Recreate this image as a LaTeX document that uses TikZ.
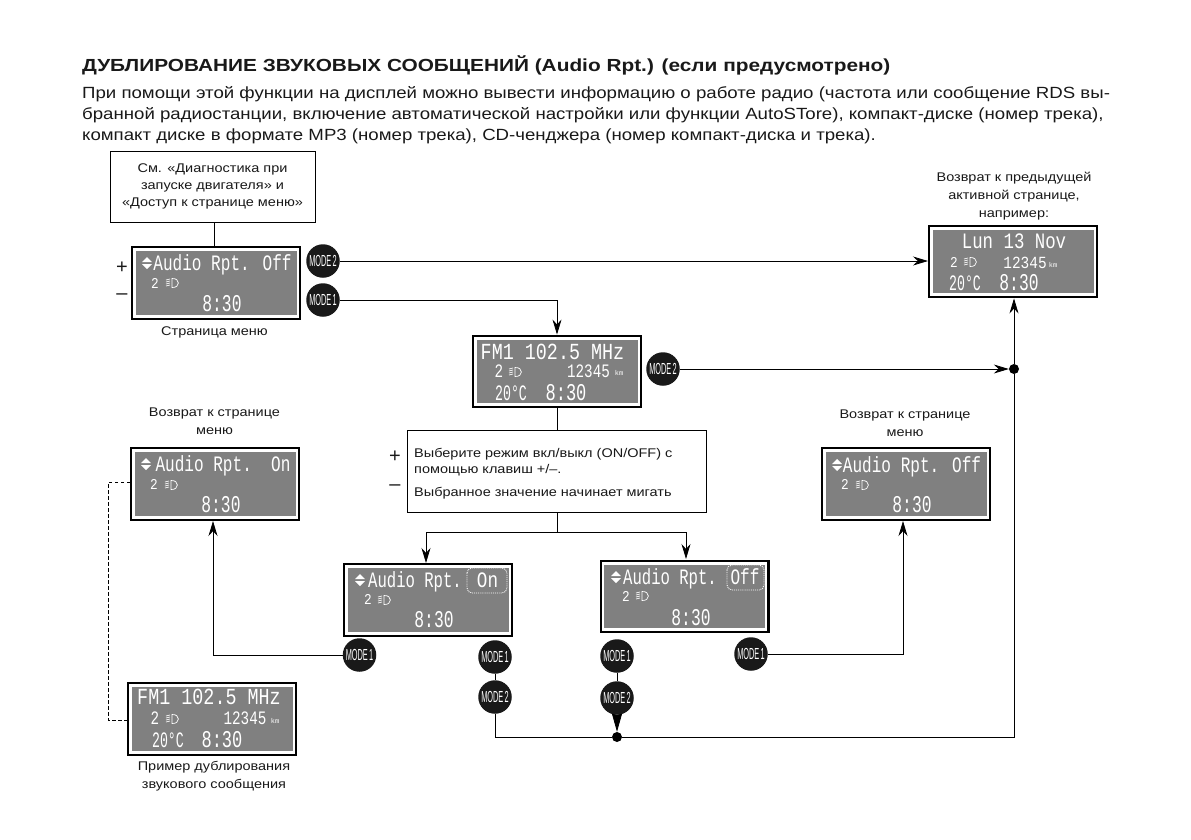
\documentclass[tikz,border=0pt]{standalone}
\usepackage{fontspec}
\usepackage{graphicx}
\setmainfont{Liberation Sans}
\newfontfamily\lcdfont{Liberation Mono}
\newfontfamily\bodyfont[FakeStretch=1.15]{Liberation Sans}
\newfontfamily\headfont[FakeStretch=1.19]{Liberation Sans}
\usetikzlibrary{arrows.meta,calc}
\definecolor{lcdgrey}{gray}{0.5}
\definecolor{ink}{gray}{0.1}
\tikzset{
  outerbox/.style={draw=black,line width=2.4pt,fill=white,minimum width=167.6pt,minimum height=71.5pt,inner sep=0pt},
  innerbox/.style={fill=lcdgrey,minimum width=161pt,minimum height=63.5pt,inner sep=0pt},
  lcdtxt/.style={text=white,inner sep=0pt,anchor=base},
  modebtn/.style={circle,fill=ink,minimum size=33.5pt,inner sep=0pt,text=white},
  infobox/.style={draw=black,line width=.7pt,fill=white,inner sep=0pt},
  captxt/.style={align=center,font=\bodyfont\fontsize{12.6}{18}\selectfont,text=ink,inner sep=0pt},
  seltxt/.style={anchor=base west,inner sep=0pt,font=\bodyfont\fontsize{12.6}{18}\selectfont,text=ink},
  sign/.style={inner sep=0pt,font=\fontsize{20}{20}\selectfont,text=ink},
  conn/.style={draw=black,line width=.8pt},
  arr/.style={conn,-{Stealth[length=15pt,width=9pt]}},
  dotnode/.style={circle,fill=black,minimum size=10pt,inner sep=0pt},
  para/.style={anchor=base west,inner sep=0pt,text=ink,font=\bodyfont\fontsize{16.2}{18}\selectfont}
}
% name, cx, cy
\newcommand{\lcdbox}[3]{%
  \node[outerbox] (#1) at (#2,#3) {};
  \node[innerbox] (#1-in) at (#2,#3) {};
}
% name, x, centre y, size, xscale, text
\newcommand{\lcdtext}[6]{%
  \node[lcdtxt,yshift={-0.33*#4}] (#1) at (#2,#3) {\fontsize{#4}{#4}\lcdfont\scalebox{#5}[1]{#6}};
}
% lamp symbol at x,y
\newcommand{\lamp}[2]{%
  \begin{scope}[shift={(#1,#2)},white,line width=.7pt]
    \draw (1,-4.5) .. controls (9.5,-5) and (9.5,5) .. (1,4.5) -- cycle;
    \draw (-1,-4) -- (-5,-3) (-1,-2) -- (-5,-1) (-1,0) -- (-5,1) (-1,2) -- (-5,3);
  \end{scope}
}
% up/down symbol at x,y
\newcommand{\updown}[2]{%
  \fill[white] (#1-5,#2-1) -- (#1+5,#2-1) -- (#1,#2-6) -- cycle
               (#1-5,#2+1) -- (#1+5,#2+1) -- (#1,#2+6) -- cycle;
}
\newcommand{\modelabel}[1]{\fontsize{16}{16}\selectfont\scalebox{.46}[1]{MODE\,#1}}
\begin{document}
\begin{tikzpicture}[x=1pt,y=-1pt]
\useasboundingbox (0,0) rectangle (1191,839);
% heading
\node[para,font=\headfont\fontsize{17.5}{18}\bfseries\selectfont] (title) at (82,71) {ДУБЛИРОВАНИЕ ЗВУКОВЫХ СООБЩЕНИЙ (Audio Rpt.) (если предусмотрено)};
\node[para] (p1) at (82,98) {При помощи этой функции на дисплей можно вывести информацию о работе радио (частота или сообщение RDS вы-};
\node[para] (p2) at (82,119) {бранной радиостанции, включение автоматической настройки или функции AutoSTore), компакт-диске (номер трека),};
\node[para] (p3) at (82,140) {компакт диске в формате MP3 (номер трека), CD-ченджера (номер компакт-диска и трека).};

% info boxes
\node[infobox,minimum width=205pt,minimum height=71pt] (see) at (212.5,186.5) {};
\node[captxt,font=\bodyfont\fontsize{12.6}{16.8}\selectfont] (seet) at (212.5,186.5) {См. «Диагностика при\\запуске двигателя» и\\«Доступ к странице меню»};
\node[infobox,minimum width=299pt,minimum height=82pt] (sel) at (557,471) {};
\node[seltxt] (sel1) at (414,457) {Выберите режим вкл/выкл (ON/OFF) с};
\node[seltxt] (sel2) at (414,473) {помощью клавиш +/–.};
\node[seltxt] (sel3) at (414,496) {Выбранное значение начинает мигать};

% displays
\lcdbox{menu}{216}{283}
\updown{147}{263}
\lcdtext{menu-a}{222.5}{263}{22}{.73}{Audio Rpt. Off}
\lcdtext{menu-b}{155}{284}{15}{.85}{2}
\lamp{171}{283}
\lcdtext{menu-c}{222}{304}{24}{.68}{8:30}

\lcdbox{fm}{557}{371.5}
\lcdtext{fm-a}{552.5}{351.5}{23}{.8}{FM1 102.5 MHz}
\lcdtext{fm-b}{499}{371.5}{19}{.75}{2}
\lamp{514}{372}
\lcdtext{fm-c}{588.5}{371.5}{19}{.75}{12345}
\lcdtext{fm-d}{619}{373}{7}{1}{km}
\lcdtext{fm-e}{511}{393}{22}{.6}{20°C}
\lcdtext{fm-f}{566}{393}{24}{.71}{8:30}

\lcdbox{ret}{1013}{261.5}
\lcdtext{ret-a}{1014}{241}{22}{.79}{Lun 13 Nov}
\lcdtext{ret-b}{954}{263}{15}{.85}{2}
\lamp{969}{262}
\lcdtext{ret-c}{1025}{262.5}{17}{.85}{12345}
\lcdtext{ret-d}{1053}{265}{7}{1}{km}
\lcdtext{ret-e}{965}{283}{22}{.6}{20°C}
\lcdtext{ret-f}{1019}{283}{24}{.68}{8:30}

\lcdbox{lon}{215}{484}
\updown{146}{464}
\lcdtext{lon-a}{223}{464}{22}{.73}{Audio Rpt.\ \ On}
\lcdtext{lon-b}{154}{485}{15}{.85}{2}
\lamp{170}{485}
\lcdtext{lon-c}{221}{505}{24}{.68}{8:30}

\lcdbox{roff}{906}{484}
\updown{837}{465}
\lcdtext{roff-a}{912}{465}{22}{.73}{Audio Rpt. Off}
\lcdtext{roff-b}{845}{485}{15}{.85}{2}
\lamp{861}{485}
\lcdtext{roff-c}{912}{505}{24}{.68}{8:30}

\lcdbox{con}{428}{600}
\updown{360}{580}
\lcdtext{con-a}{415}{580}{22}{.71}{Audio Rpt.}
\lcdtext{con-on}{487.5}{580}{22}{.8}{On}
\draw[white,densely dotted,line width=.9pt,rounded corners=5pt] (467,568) rectangle (507,593);
\lcdtext{con-b}{368}{600}{15}{.85}{2}
\lamp{383}{600}
\lcdtext{con-c}{434}{620}{24}{.68}{8:30}

\lcdbox{coff}{684.5}{596.5}
\updown{616}{577}
\lcdtext{coff-a}{670}{577}{22}{.71}{Audio Rpt.}
\lcdtext{coff-on}{745}{577}{22}{.73}{Off}
\draw[white,densely dotted,line width=.9pt,rounded corners=5pt] (727,565) rectangle (764,590);
\lcdtext{coff-b}{626}{597}{15}{.85}{2}
\lamp{641}{596}
\lcdtext{coff-c}{691}{618}{24}{.68}{8:30}

\lcdbox{ex}{212}{719}
\lcdtext{ex-a}{209}{697}{23}{.8}{FM1 102.5 MHz}
\lcdtext{ex-b}{155}{718.5}{19}{.75}{2}
\lamp{171}{719}
\lcdtext{ex-c}{245}{718.5}{19}{.75}{12345}
\lcdtext{ex-d}{275}{721}{7}{1}{km}
\lcdtext{ex-e}{168}{740}{22}{.6}{20°C}
\lcdtext{ex-f}{222}{740}{24}{.71}{8:30}

% captions
\node[captxt] (c1) at (214.5,332) {Страница меню};
\node[captxt] (c2) at (214.5,421) {Возврат к странице\\меню};
\node[captxt] (c3) at (905,423) {Возврат к странице\\меню};
\node[captxt] (c4) at (1014,196.5) {Возврат к предыдущей\\активной странице,\\например:};
\node[captxt] (c5) at (214,776) {Пример дублирования\\звукового сообщения};
% plus / minus
\node[sign] (p-a) at (122,268) {+};
\node[sign] (m-a) at (122,297) {–};
\node[sign] (p-b) at (395,457) {+};
\node[sign] (m-b) at (395,488) {–};

% buttons
\node[modebtn] (b1) at (323,261) {\modelabel{2}};
\node[modebtn] (b2) at (323,300) {\modelabel{1}};
\node[modebtn] (b3) at (663,369) {\modelabel{2}};
\node[modebtn] (b4) at (359.5,655) {\modelabel{1}};
\node[modebtn] (b5) at (495,657) {\modelabel{1}};
\node[modebtn] (b6) at (495,697) {\modelabel{2}};
\node[modebtn] (b7) at (617,656) {\modelabel{1}};
\node[modebtn] (b8) at (617,698) {\modelabel{2}};
\node[modebtn] (b9) at (751,654) {\modelabel{1}};

% junctions
\node[dotnode] (j1) at (1014,369) {};
\node[dotnode] (j2) at (617,737) {};
\coordinate (corner) at (1014,737);
\coordinate (split) at (557,532);
\coordinate (seex) at (214,0);
\coordinate (tocon) at (426,563);
\coordinate (tocoff) at (686,559);
\coordinate (tolon) at (213,521);
\coordinate (toroff) at (903,521);
\coordinate (dh1) at (0,482);
\coordinate (dh2) at (0,720);
\coordinate (d1) at (108,482);
\coordinate (d2) at (108,720);

% connectors
\draw[conn] (see.south -| seex) -- (menu.north -| seex);
\draw[arr] (b1) -- (b1 -| ret.west);
\draw[arr] (b2.east) -| (fm.north);
\draw[arr] (b3) -- (j1);
\draw[arr] (j1) -- (j1 |- ret.south);
\draw[conn] (fm.south) -- (sel.north);
\draw[conn] (sel.south) -- (split);
\draw[arr] (split) -| (tocon);
\draw[arr] (split) -| (tocoff);
\draw[arr] (b4.west) -| (tolon);
\draw[arr] (b9.east) -| (toroff);
\draw[conn] (b5) -- (b6);
\draw[conn] (b7) -- (b8);
\draw[conn] (b6.south) |- (j2) -- (corner) -- (j1);
\draw[conn,-{Stealth[length=18pt,width=10pt,inset=1pt]}] (b8.south) -- (j2);
\draw[conn,dash pattern=on 3.5pt off 2.5pt,line width=.7pt] (lon.west |- dh1) -- (d1) -- (d2) -- (ex.west |- dh2);
\end{tikzpicture}
\end{document}
